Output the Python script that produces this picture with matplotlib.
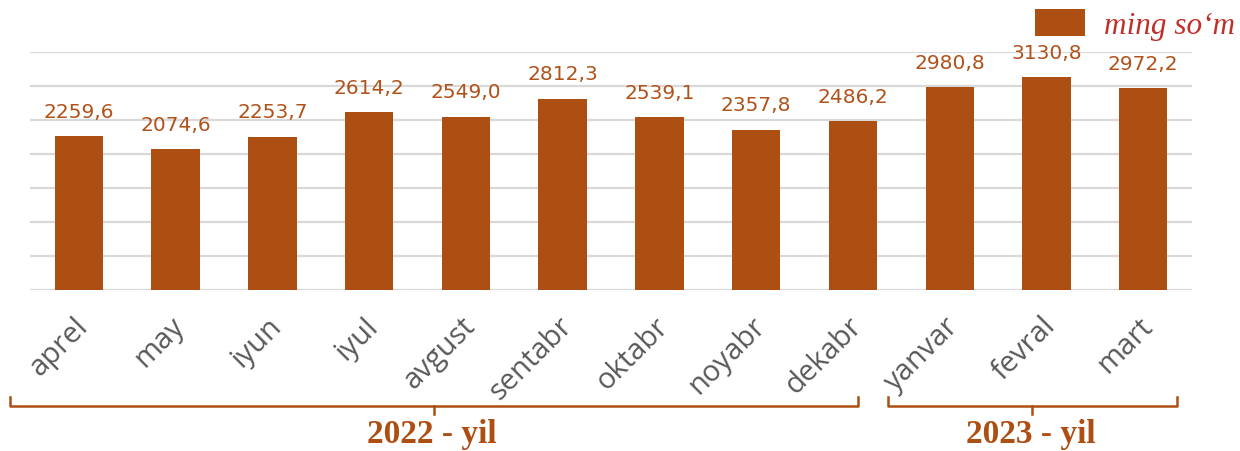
import matplotlib.pyplot as plt
from matplotlib.transforms import blended_transform_factory, ScaledTranslation

oylar = ["aprel", "may", "iyun", "iyul", "avgust", "sentabr", "oktabr",
         "noyabr", "dekabr", "yanvar", "fevral", "mart"]
qiymat = [2259.6, 2074.6, 2253.7, 2614.2, 2549.0, 2812.3, 2539.1,
          2357.8, 2486.2, 2980.8, 3130.8, 2972.2]
yillar = ["2022 - yil", "2023 - yil"]
qavs = [(-0.71, 8.05), (8.36, 11.35)]  # qavs chegaralari (x o'qi birligida)

jigar = "#AD4E12"
yozuv = "#B0521A"

fig = plt.figure(figsize=(12.4, 4.52), dpi=100)
ax = fig.add_axes([0.0245, 0.356, 0.9365, 0.527])

x = list(range(len(oylar)))
bars = ax.bar(x, qiymat, width=0.5, color=jigar, zorder=3, label="ming so\u2018m")
ax.bar_label(bars, labels=[f"{v:.1f}".replace(".", ",") for v in qiymat],
             padding=11, color=yozuv, fontsize=14.5, family="DejaVu Sans")

ax.set_xlim(-0.5, len(oylar) - 0.5)
ax.set_ylim(0, 3500)
ax.set_yticks(range(0, 3501, 500))
ax.yaxis.grid(True, color="#D9D9D9", lw=1.6, zorder=0)
ax.tick_params(axis="y", left=False, labelleft=False)
ax.tick_params(axis="x", length=0, pad=0)
for s in ax.spines.values():
    s.set_visible(False)

ax.set_xticks(x)
ax.set_xticklabels(oylar, rotation=45, ha="right", va="center",
                   rotation_mode="anchor", fontsize=21, color="#595959",
                   family="Open Sans")
siljish = ScaledTranslation(5 / 100, -31 / 100, fig.dpi_scale_trans)
for t in ax.get_xticklabels():
    t.set_transform(t.get_transform() + siljish)

# qavslar
tr = blended_transform_factory(ax.transData, fig.transFigure)
for (x0, x1), nom in zip(qavs, yillar):
    xm = (x0 + x1) / 2
    ax.plot([x0, x0, x1, x1], [0.12, 0.0996, 0.0996, 0.12], color=jigar,
            lw=1.8, transform=tr, clip_on=False)
    ax.plot([xm, xm], [0.0996, 0.082], color=jigar, lw=1.8, transform=tr,
            clip_on=False)
    ax.text(xm - 0.02, 0.038, nom, transform=tr, ha="center", va="center",
            fontsize=24, fontweight="bold", family="Liberation Serif", color=jigar)

leg = fig.legend(handles=[bars], loc="upper right", bbox_to_anchor=(1.009, 1.012),
                 frameon=False, handlelength=1.6, handleheight=0.95,
                 handletextpad=0.62, borderaxespad=0.1,
                 prop={"family": "Liberation Serif", "style": "italic", "size": 22.5})
for t in leg.get_texts():
    t.set_color("#C0302A")

fig.savefig("out.png", dpi=100)
